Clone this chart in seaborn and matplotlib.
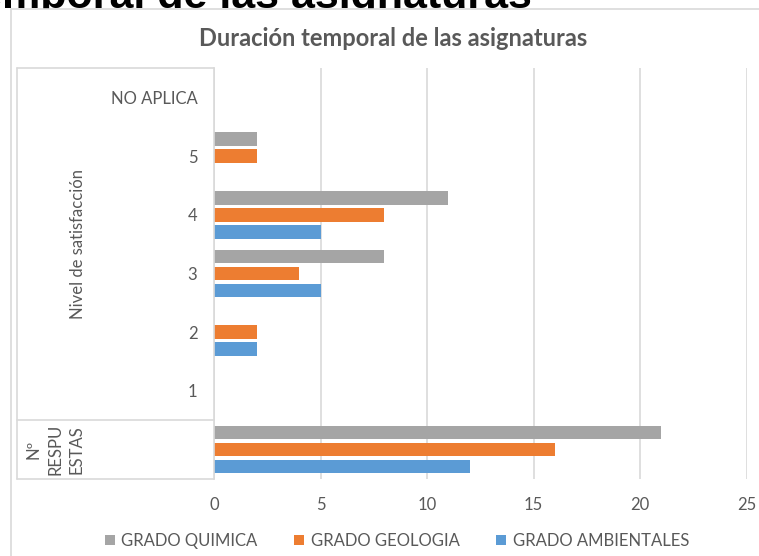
import numpy as np
import pandas as pd
import matplotlib
matplotlib.use("Agg")
import matplotlib.pyplot as plt
from matplotlib.lines import Line2D
from matplotlib.patches import Rectangle
import seaborn as sns

# ---- data ----
categories = ["NO APLICA", "5", "4", "3", "2", "1", "Nº RESPUESTAS"]
tick_labels = ["NO APLICA", "5", "4", "3", "2", "1", ""]
series_names = ["GRADO QUIMICA", "GRADO GEOLOGIA", "GRADO AMBIENTALES"]
quimica = [0, 2, 11, 8, 0, 0, 21]
geologia = [0, 2, 8, 4, 2, 0, 16]
ambientales = [0, 0, 5, 5, 2, 0, 12]
group_label_top = "Nivel de satisfacción"
group_label_bottom_lines = ["Nº", "RESPU", "ESTAS"]
x_ticks = [0, 5, 10, 15, 20, 25]
chart_title = "Duración temporal de las asignaturas"
page_heading = "Duración temporal de las asignaturas"

colors = ["#A5A5A5", "#ED7D31", "#5B9BD5"]
txt = "#595959"
grid = "#D9D9D9"

rows = []
for name, vals in zip(series_names, [quimica, geologia, ambientales]):
    for c, v in zip(categories, vals):
        rows.append({"cat": c, "serie": name, "val": v})
df = pd.DataFrame(rows)

sns.set_style("white")
plt.rcParams["font.family"] = ["Lato", "DejaVu Sans"]

W, H = 759, 556
fig = plt.figure(figsize=(W / 100, H / 100), dpi=100)
fig.patch.set_facecolor("white")

x0, x1, y0, y1 = 214, 746.5, 68, 479
ax = fig.add_axes([x0 / W, 1 - y1 / H, (x1 - x0) / W, (y1 - y0) / H])

sns.barplot(data=df, y="cat", x="val", hue="serie", order=categories,
            hue_order=series_names, palette=colors, orient="h",
            width=0.87, gap=0.2, linewidth=0, saturation=1, ax=ax, errorbar=None)

ax.set_xlim(0, 25)
ax.set_ylim(6.5, -0.5)
ax.set_xticks(x_ticks)
ax.set_xticklabels([str(t) for t in x_ticks])
ax.set_yticks(range(len(categories)))
ax.set_yticklabels(tick_labels)
ax.set_xlabel("")
ax.set_ylabel("")
ax.tick_params(axis="both", length=0, labelsize=12, colors=txt)
ax.tick_params(axis="y", pad=12)
ax.tick_params(axis="x", pad=13)
ax.grid(axis="x", color=grid, linewidth=1.2)
ax.set_axisbelow(True)
for s in ["top", "right", "bottom"]:
    ax.spines[s].set_visible(False)
ax.spines["left"].set_color(grid)
ax.spines["left"].set_linewidth(1.2)
if ax.get_legend() is not None:
    ax.get_legend().remove()

# multi-level category box
tr = ax.get_yaxis_transform()
xl = (17 - x0) / (x1 - x0)
for yv in [-0.5, 5.5, 6.5]:
    ax.add_line(Line2D([xl, 0], [yv, yv], transform=tr, color=grid, lw=1.2, clip_on=False))
ax.add_line(Line2D([xl, xl], [-0.5, 6.5], transform=tr, color=grid, lw=1.2, clip_on=False))

ax.text((78 - x0) / (x1 - x0), 2.5, group_label_top, transform=tr, rotation=90,
        ha="center", va="center", fontsize=12, color=txt)
for xp, line in zip([33, 55, 77], group_label_bottom_lines):
    ax.text((xp - x0) / (x1 - x0), 6.0, line, transform=tr, rotation=90,
            ha="center", va="center", fontsize=12, color=txt)

# page heading behind the chart object (partly hidden)
fig.text(532 / W, 1 - 8 / H, page_heading, ha="right", va="baseline",
         fontsize=31, fontweight="bold", color="black",
         family=["Liberation Sans", "DejaVu Sans"], zorder=-2)
fig.add_artist(Rectangle((11 / W, 0), 1 - 11 / W, 1 - 9 / H, transform=fig.transFigure,
                         facecolor="white", edgecolor="none", zorder=-1))

# chart frame
fig.add_artist(Line2D([11 / W, 11 / W], [0, 1 - 9 / H], transform=fig.transFigure, color=grid, lw=1.2))
fig.add_artist(Line2D([11 / W, 1], [1 - 9 / H, 1 - 9 / H], transform=fig.transFigure, color=grid, lw=1.2))

# chart title
fig.text(393 / W, 1 - 38 / H, chart_title, ha="center", va="center",
         fontsize=17, fontweight="bold", color=txt)

handles, labels = ax.get_legend_handles_labels()
fig.legend(handles, labels, ncol=3, loc="center", bbox_to_anchor=(397 / W, 1 - 541 / H),
           frameon=False, handlelength=0.6, handleheight=0.6, handletextpad=0.4,
           columnspacing=2.2, fontsize=12, labelcolor=txt)

fig.savefig("out.png", dpi=100, facecolor="white")
